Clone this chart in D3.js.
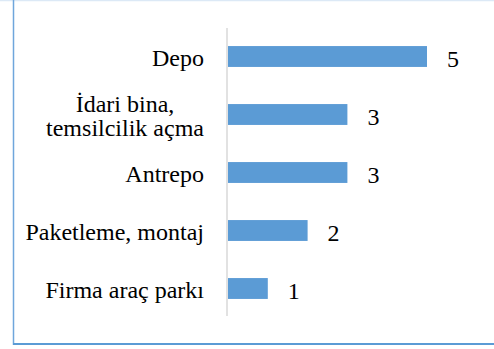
<!DOCTYPE html>
<html>
<head>
<meta charset="utf-8">
<script src="https://cdn.jsdelivr.net/npm/d3@7"></script>
<style>
  html, body { margin: 0; padding: 0; background: #fff; }
  svg { display: block; }
</style>
</head>
<body>
<svg id="chart" width="494" height="349"></svg>
<script>
// Categories (top to bottom); "\n" marks where a long label wraps
const categories = ["Depo", "İdari bina,\ntemsilcilik açma", "Antrepo", "Paketleme, montaj", "Firma araç parkı"];
const values = [5, 3, 3, 2, 1];

const W = 494, H = 349;
const FONT = "'Liberation Serif', 'Times New Roman', Times, serif";
const FS = 24, LINE = 24, LABEL_RIGHT = 204;
const svg = d3.select("#chart");

// Frame of the chart area
svg.append("line").attr("x1", 0).attr("x2", W).attr("y1", 0.5).attr("y2", 0.5)
  .attr("stroke", "#dce9f6").attr("stroke-width", 1.5);
svg.append("line").attr("x1", 13.5).attr("x2", 13.5).attr("y1", 0).attr("y2", 345)
  .attr("stroke", "#6fa6dc").attr("stroke-width", 1.5);
svg.append("line").attr("x1", 13).attr("x2", W).attr("y1", 344).attr("y2", 344)
  .attr("stroke", "#5b9bd5").attr("stroke-width", 2);

const x = d3.scaleLinear().domain([0, 5]).range([228, 427]);
const y = d3.scaleBand().domain(categories).range([27.5, 317.5]).paddingInner(0.64).paddingOuter(0.32);

// Bars
svg.selectAll("rect.bar").data(categories).join("rect")
  .attr("class", "bar")
  .attr("x", x(0))
  .attr("y", d => y(d))
  .attr("width", (d, i) => x(values[i]) - x(0))
  .attr("height", y.bandwidth())
  .attr("fill", "#5b9bd5");

// Category axis line
svg.append("line").attr("x1", 227).attr("x2", 227).attr("y1", 28).attr("y2", 316)
  .attr("stroke", "#d9d9d9").attr("stroke-width", 1.5);

// Category labels: single lines right-aligned, wrapped lines centred on the block
svg.selectAll("g.cat").data(categories).join("g")
  .attr("class", "cat")
  .each(function(d) {
    const g = d3.select(this);
    const lines = d.split("\n");
    const cy = y(d) + y.bandwidth() / 2;
    const base = cy + 9.8 - (lines.length - 1) * LINE / 2;
    const texts = lines.map((l, j) => g.append("text")
      .attr("font-family", FONT).attr("font-size", FS).attr("fill", "#000")
      .attr("y", base + j * LINE)
      .text(l));
    if (lines.length === 1) {
      texts[0].attr("x", LABEL_RIGHT).attr("text-anchor", "end");
    } else {
      const maxW = d3.max(texts, t => t.node().getComputedTextLength());
      const cx = LABEL_RIGHT - maxW / 2;
      texts.forEach(t => t.attr("x", cx).attr("text-anchor", "middle"));
    }
  });

// Value labels
svg.selectAll("text.val").data(categories).join("text")
  .attr("class", "val")
  .attr("font-family", FONT)
  .attr("fill", "#000")
  .attr("font-size", FS)
  .attr("x", (d, i) => x(values[i]) + 20)
  .attr("y", d => y(d) + y.bandwidth() / 2 + 10.3)
  .text((d, i) => values[i]);
</script>
</body>
</html>
